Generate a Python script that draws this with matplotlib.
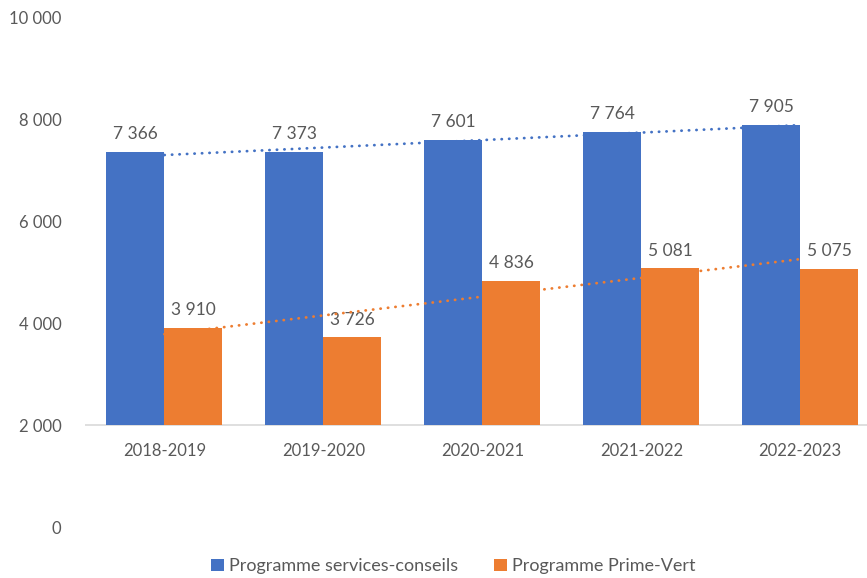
import numpy as np
import matplotlib
matplotlib.use("Agg")
import matplotlib.pyplot as plt
from matplotlib.ticker import FuncFormatter

# --- données ---
annees = ["2018-2019", "2019-2020", "2020-2021", "2021-2022", "2022-2023"]
services_conseils = [7366, 7373, 7601, 7764, 7905]
prime_vert = [3910, 3726, 4836, 5081, 5075]
noms = ["Programme services-conseils", "Programme Prime-Vert"]

BLEU = "#4472C4"
ORANGE = "#ED7D31"
GRIS = "#595959"
BASE = 2000

plt.rcParams["font.family"] = ["Lato", "DejaVu Sans"]

fig = plt.figure(figsize=(8.67, 5.78), dpi=100)
ax = fig.add_axes([85 / 867, 51 / 578, (867 - 85) / 867, (527 - 18) / 578])

x = np.arange(len(annees))
larg = 0.365

barres1 = ax.bar(x - larg / 2, np.array(services_conseils) - BASE, larg,
                 bottom=BASE, color=BLEU, label=noms[0], zorder=2)
barres2 = ax.bar(x + larg / 2, np.array(prime_vert) - BASE, larg,
                 bottom=BASE, color=ORANGE, label=noms[1], zorder=2)

# étiquettes de valeurs
def fmt(v):
    return f"{int(v):,}".replace(",", " ")

for barres, valeurs in ((barres1, services_conseils), (barres2, prime_vert)):
    for b, v in zip(barres, valeurs):
        ax.annotate(fmt(v), (b.get_x() + b.get_width() / 2, v),
                    xytext=(0, 7), textcoords="offset points",
                    ha="center", va="bottom", fontsize=12.5, color=GRIS)

# courbes de tendance linéaires
for valeurs, coul in ((services_conseils, BLEU), (prime_vert, ORANGE)):
    a, b = np.polyfit(x, valeurs, 1)
    ax.plot(x, a * x + b, color=coul, lw=2, ls=(0, (0.1, 2.6)),
            dash_capstyle="round", zorder=3)

# axe horizontal à 2000
ax.axhline(BASE, color="#d9d9d9", lw=1.2, zorder=1)
for xi, lab in zip(x, annees):
    ax.annotate(lab, (xi, BASE), xytext=(0, -13), textcoords="offset points",
                ha="center", va="top", fontsize=12, color=GRIS)

ax.set_xlim(-0.5, 4.42)
ax.set_ylim(0, 10000)
ax.set_yticks(range(0, 10001, 2000))
ax.yaxis.set_major_formatter(FuncFormatter(lambda v, p: fmt(v)))
ax.set_xticks([])
ax.tick_params(axis="y", length=0, pad=17, labelsize=12, labelcolor=GRIS)
for s in ax.spines.values():
    s.set_visible(False)

fig.legend(loc="lower center", bbox_to_anchor=(0.523, -0.022), ncol=2,
           frameon=False, fontsize=13, labelcolor=GRIS,
           handlelength=0.7, handleheight=0.7, handletextpad=0.3,
           columnspacing=2.0)

fig.savefig("out.png", dpi=100)
